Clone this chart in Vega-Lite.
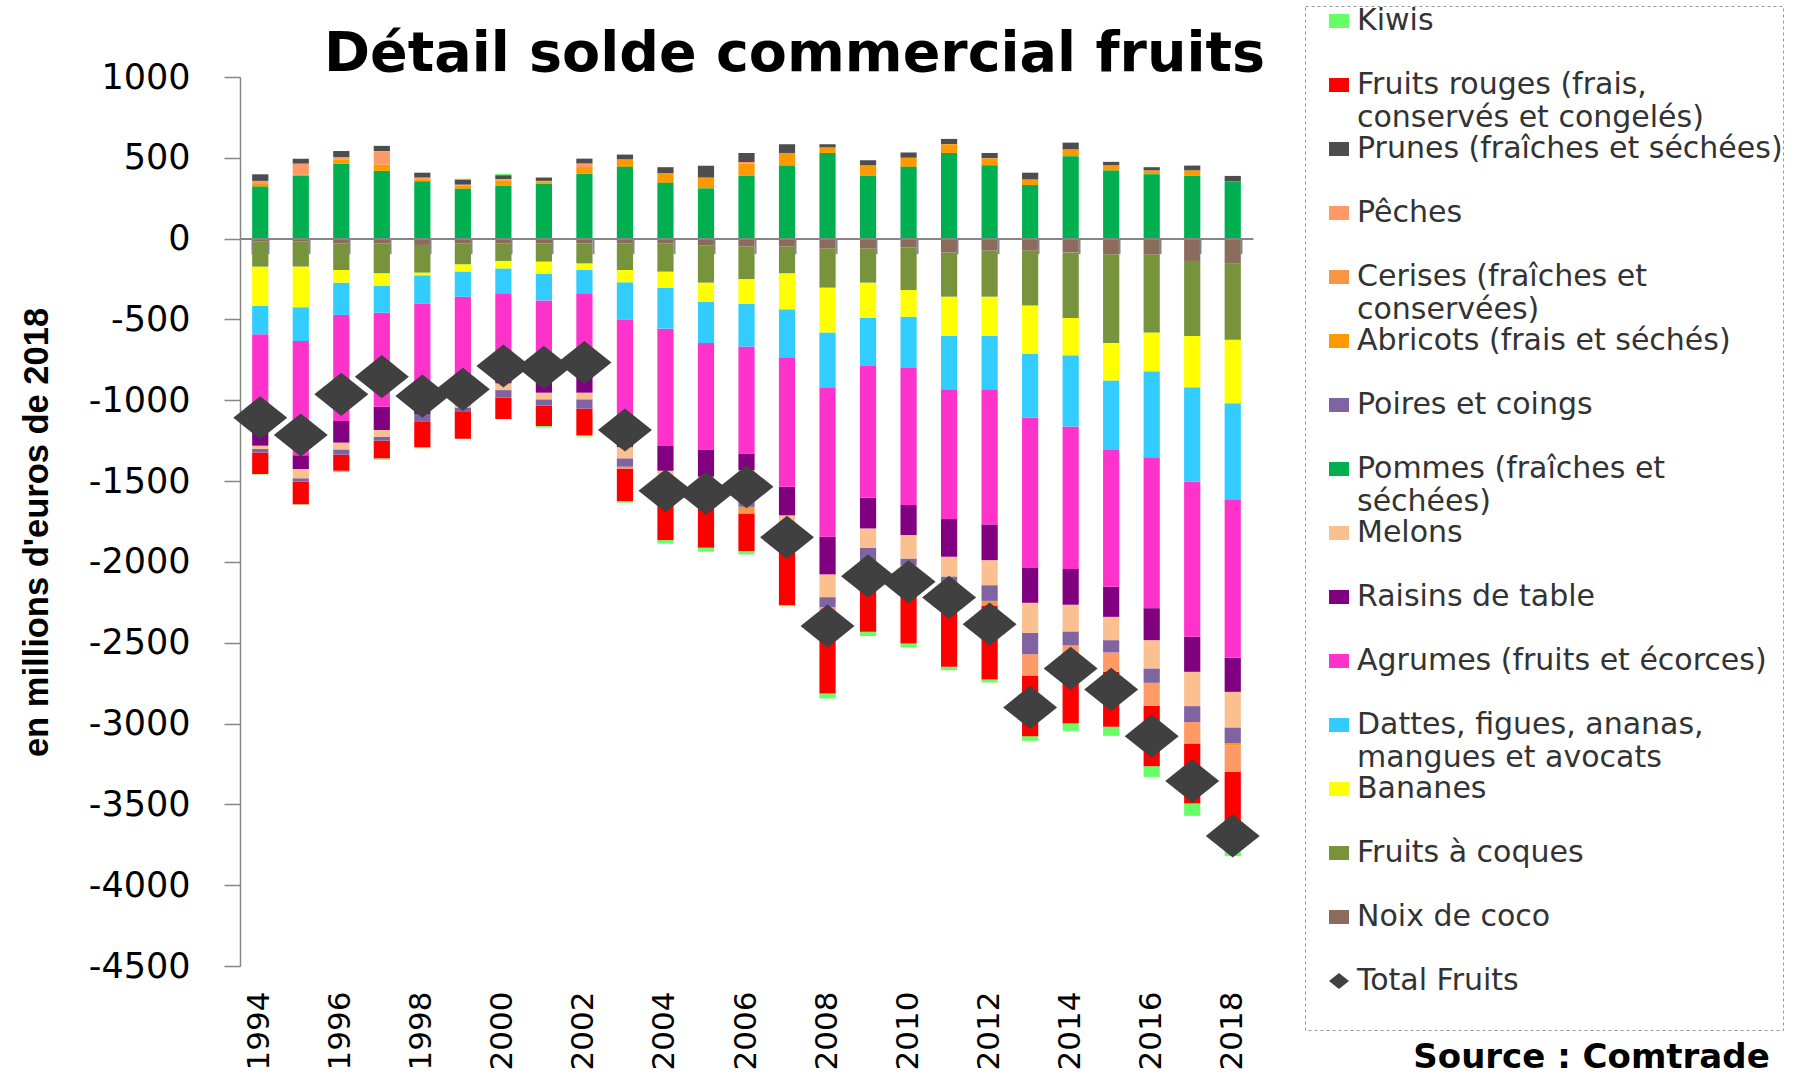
{
  "$schema": "https://vega.github.io/schema/vega-lite/v6.json",
  "width": 1013,
  "height": 889,
  "autosize": {"type": "none"},
  "padding": {"left": 240, "top": 77, "right": 553, "bottom": 109},
  "background": "white",
  "title": {
    "text": "Détail solde commercial fruits",
    "font": "DejaVu Sans", "fontSize": 55.5, "fontWeight": "bold", "color": "#000000",
    "anchor": "middle", "frame": "group", "dx": 48, "baseline": "alphabetic", "offset": -121
  },
  "data": {"values": [
    {"annee": 1994, "pommes": 322, "abricots": 16, "peches": 19, "prunes": 41, "coco": -16, "coques": -157, "bananes": -242, "dattes": -177, "agrumes": -608, "raisins": -81, "melons": -20, "poires": -23, "rouges": -132, "kiwi": -4, "total": -1108},
    {"annee": 1995, "pommes": 388, "abricots": 8, "peches": 68, "prunes": 31, "coco": -16, "coques": -157, "bananes": -252, "dattes": -208, "agrumes": -707, "raisins": -85, "melons": -58, "poires": -20, "rouges": -141, "kiwi": -3, "total": -1215},
    {"annee": 1996, "pommes": 464, "abricots": 25, "peches": 16, "prunes": 37, "coco": -29, "coques": -165, "bananes": -78, "dattes": -200, "agrumes": -656, "raisins": -134, "melons": -42, "poires": -33, "rouges": -99, "kiwi": -8, "total": -963},
    {"annee": 1997, "pommes": 419, "abricots": 39, "peches": 83, "prunes": 33, "coco": -29, "coques": -185, "bananes": -79, "dattes": -165, "agrumes": -582, "raisins": -144, "melons": -41, "poires": -25, "rouges": -109, "kiwi": -9, "total": -854},
    {"annee": 1998, "pommes": 355, "abricots": 12, "peches": 10, "prunes": 31, "coco": -39, "coques": -171, "bananes": -17, "dattes": -175, "agrumes": -648, "raisins": -35, "poires": -45, "rouges": -160, "kiwi": -7, "total": -974},
    {"annee": 1999, "pommes": 309, "abricots": 20, "peches": 5, "prunes": 31, "kiwi": 6, "coco": -29, "coques": -130, "bananes": -45, "dattes": -155, "agrumes": -651, "raisins": -20, "melons": -15, "poires": -28, "rouges": -165, "total": -932},
    {"annee": 2000, "pommes": 326, "abricots": 35, "peches": 6, "prunes": 25, "kiwi": 8, "coco": -29, "coques": -109, "bananes": -46, "dattes": -154, "agrumes": -542, "raisins": -15, "melons": -42, "poires": -47, "rouges": -132, "total": -788},
    {"annee": 2001, "pommes": 340, "abricots": 12, "peches": 5, "prunes": 21, "coco": -29, "coques": -113, "bananes": -75, "dattes": -165, "agrumes": -498, "raisins": -73, "melons": -41, "poires": -38, "rouges": -127, "kiwi": -9, "total": -796},
    {"annee": 2002, "pommes": 402, "abricots": 41, "peches": 21, "prunes": 31, "coco": -29, "coques": -124, "bananes": -41, "dattes": -144, "agrumes": -512, "raisins": -103, "melons": -41, "poires": -58, "rouges": -165, "kiwi": -8, "total": -767},
    {"annee": 2003, "pommes": 444, "abricots": 45, "prunes": 31, "coco": -29, "coques": -165, "bananes": -76, "dattes": -233, "agrumes": -697, "raisins": -90, "melons": -69, "poires": -52, "cerises": -12, "rouges": -201, "kiwi": -10, "total": -1184},
    {"annee": 2004, "pommes": 345, "abricots": 58, "prunes": 39, "coco": -29, "coques": -175, "bananes": -99, "dattes": -254, "agrumes": -726, "raisins": -153, "melons": -84, "poires": -60, "peches": -40, "rouges": -245, "kiwi": -21, "total": -1560},
    {"annee": 2005, "pommes": 311, "abricots": 66, "prunes": 74, "coco": -41, "coques": -231, "bananes": -120, "dattes": -254, "agrumes": -658, "raisins": -169, "melons": -80, "poires": -70, "peches": -40, "rouges": -249, "kiwi": -25, "total": -1576},
    {"annee": 2006, "pommes": 388, "abricots": 76, "peches": 10, "prunes": 56, "coco": -49, "coques": -201, "bananes": -154, "dattes": -264, "agrumes": -661, "raisins": -103, "melons": -150, "poires": -77, "cerises": -41, "rouges": -233, "kiwi": -21, "total": -1535},
    {"annee": 2007, "pommes": 452, "abricots": 78, "prunes": 54, "coco": -49, "coques": -165, "bananes": -223, "dattes": -297, "agrumes": -801, "raisins": -177, "melons": -48, "poires": -70, "peches": -20, "rouges": -417, "kiwi": -8, "total": -1848},
    {"annee": 2008, "pommes": 530, "abricots": 33, "prunes": 21, "coco": -62, "coques": -241, "bananes": -277, "dattes": -340, "agrumes": -924, "raisins": -233, "melons": -141, "poires": -62, "peches": -40, "rouges": -494, "kiwi": -31, "total": -2397},
    {"annee": 2009, "pommes": 388, "abricots": 64, "prunes": 33, "coco": -62, "coques": -210, "bananes": -219, "dattes": -297, "agrumes": -815, "raisins": -190, "melons": -119, "poires": -88, "peches": -30, "rouges": -402, "kiwi": -27, "total": -2088},
    {"annee": 2010, "pommes": 444, "abricots": 56, "prunes": 33, "coco": -54, "coques": -264, "bananes": -165, "dattes": -317, "agrumes": -848, "raisins": -186, "melons": -145, "poires": -41, "peches": -30, "rouges": -455, "kiwi": -24, "total": -2123},
    {"annee": 2011, "pommes": 530, "abricots": 54, "prunes": 33, "coco": -85, "coques": -274, "bananes": -243, "dattes": -330, "agrumes": -803, "raisins": -233, "melons": -122, "poires": -60, "peches": -50, "rouges": -449, "kiwi": -21, "total": -2220},
    {"annee": 2012, "pommes": 454, "abricots": 43, "prunes": 33, "coco": -74, "coques": -285, "bananes": -243, "dattes": -330, "agrumes": -836, "raisins": -221, "melons": -155, "poires": -97, "cerises": -29, "rouges": -457, "kiwi": -19, "total": -2385},
    {"annee": 2013, "pommes": 332, "abricots": 33, "prunes": 43, "coco": -74, "coques": -340, "bananes": -298, "dattes": -396, "agrumes": -926, "raisins": -219, "melons": -186, "poires": -132, "peches": -132, "rouges": -375, "kiwi": -29, "total": -2900},
    {"annee": 2014, "pommes": 510, "abricots": 41, "prunes": 43, "coco": -85, "coques": -406, "bananes": -231, "dattes": -441, "agrumes": -881, "raisins": -221, "melons": -165, "poires": -87, "peches": -43, "rouges": -440, "kiwi": -45, "total": -2659},
    {"annee": 2015, "pommes": 421, "abricots": 31, "prunes": 23, "coco": -97, "coques": -549, "bananes": -231, "dattes": -431, "agrumes": -846, "raisins": -186, "melons": -144, "poires": -76, "peches": -120, "rouges": -340, "kiwi": -56, "total": -2789},
    {"annee": 2016, "pommes": 398, "abricots": 23, "prunes": 21, "coco": -97, "coques": -483, "bananes": -241, "dattes": -532, "agrumes": -933, "raisins": -198, "melons": -175, "poires": -89, "peches": -142, "rouges": -374, "kiwi": -66, "total": -3078},
    {"annee": 2017, "pommes": 388, "abricots": 33, "prunes": 31, "coco": -138, "coques": -464, "bananes": -318, "dattes": -584, "agrumes": -959, "raisins": -217, "melons": -212, "poires": -99, "peches": -132, "rouges": -372, "kiwi": -76, "total": -3355},
    {"annee": 2018, "pommes": 355, "prunes": 33, "coco": -153, "coques": -472, "bananes": -394, "dattes": -594, "agrumes": -980, "raisins": -211, "melons": -220, "poires": -99, "abricots": -13, "peches": -163, "rouges": -471, "kiwi": -50, "total": -3695}
  ]},
  "resolve": {"axis": {"x": "independent"}},
  "layer": [
    {
      "transform": [
        {"fold": ["kiwi", "rouges", "prunes", "peches", "cerises", "abricots", "poires", "pommes", "melons", "raisins", "agrumes", "dattes", "bananes", "coques", "coco"], "as": ["serie", "v"]},
        {"filter": "isValid(datum.v)"},
        {"calculate": "indexof(['kiwi','rouges','prunes','peches','cerises','abricots','poires','pommes','melons','raisins','agrumes','dattes','bananes','coques','coco'], datum.serie)", "as": "rang"}
      ],
      "mark": {"type": "bar"},
      "encoding": {
        "x": {
          "field": "annee", "type": "ordinal",
          "scale": {"paddingInner": 0.6, "paddingOuter": 0.3},
          "axis": {
            "orient": "bottom", "ticks": false, "domain": false, "grid": false,
            "labelExpr": "datum.value % 2 == 0 ? datum.label : ''",
            "labelOverlap": false,
            "labelFont": "DejaVu Sans", "labelFontSize": 31, "labelColor": "#000000",
            "labelAngle": 270, "labelAlign": "right", "labelBaseline": "middle", "labelPadding": 25,
            "title": "Source : Comtrade",
            "titleFont": "DejaVu Sans", "titleFontSize": 34, "titleFontWeight": "bold", "titleColor": "#000000",
            "titleX": 1351, "titleY": 91, "titleAlign": "center", "titleBaseline": "middle", "titleAngle": 0
          }
        },
        "y": {
          "field": "v", "type": "quantitative", "stack": "zero",
          "scale": {"domain": [-4500, 1000], "nice": false, "zero": false},
          "axis": {
            "values": [-4500, -4000, -3500, -3000, -2500, -2000, -1500, -1000, -500, 0, 500, 1000],
            "labelExpr": "'' + datum.value",
            "grid": false,
            "domainColor": "#868686", "domainWidth": 1.5, "tickColor": "#868686", "tickWidth": 1.5, "tickSize": 16,
            "labelFont": "DejaVu Sans", "labelFontSize": 35, "labelColor": "#000000", "labelPadding": 34,
            "title": "en millions d'euros de 2018",
            "titleFont": "Liberation Sans", "titleFontSize": 34.5, "titleFontWeight": "bold", "titleColor": "#000000",
            "titleX": -203, "titleY": 455, "titleAngle": 270, "titleAlign": "center", "titleBaseline": "middle"
          }
        },
        "color": {
          "field": "serie", "type": "nominal",
          "scale": {
            "domain": ["kiwi", "rouges", "prunes", "peches", "cerises", "abricots", "poires", "pommes", "melons", "raisins", "agrumes", "dattes", "bananes", "coques", "coco", "total"],
            "range": ["#66FF66", "#FF0000", "#4D4D4D", "#FF9966", "#F79646", "#FF9900", "#8064A2", "#00B050", "#FAC090", "#800080", "#FF33CC", "#33CCFF", "#FFFF00", "#77933C", "#8B6B5C", "#404040"]
          },
          "legend": {
            "title": null,
            "labelExpr": "datum.value == 'kiwi' ? 'Kiwis' : datum.value == 'rouges' ? ['Fruits rouges (frais,', 'conservés et congelés)'] : datum.value == 'prunes' ? 'Prunes (fraîches et séchées)' : datum.value == 'peches' ? 'Pêches' : datum.value == 'cerises' ? ['Cerises (fraîches et', 'conservées)'] : datum.value == 'abricots' ? 'Abricots (frais et séchés)' : datum.value == 'poires' ? 'Poires et coings' : datum.value == 'pommes' ? ['Pommes (fraîches et', 'séchées)'] : datum.value == 'melons' ? 'Melons' : datum.value == 'raisins' ? 'Raisins de table' : datum.value == 'agrumes' ? 'Agrumes (fruits et écorces)' : datum.value == 'dattes' ? ['Dattes, figues, ananas,', 'mangues et avocats'] : datum.value == 'bananes' ? 'Bananes' : datum.value == 'coques' ? 'Fruits à coques' : datum.value == 'coco' ? 'Noix de coco' : ['Total Fruits', '']"
          }
        },
        "order": {"field": "rang", "type": "quantitative", "sort": "descending"}
      }
    },
    {
      "mark": {"type": "point", "filled": true, "opacity": 1, "size": 2916, "strokeWidth": 0},
      "encoding": {
        "x": {
          "field": "annee", "type": "ordinal",
          "axis": {
            "orient": "bottom", "offset": -727.4, "tickBand": "extent", "tickSize": 15,
            "labels": false, "title": null, "grid": false, "zindex": 1,
            "domainColor": "#868686", "domainWidth": 2, "tickColor": "#868686", "tickWidth": 2
          }
        },
        "y": {"field": "total", "type": "quantitative"},
        "color": {
          "datum": "total", "type": "nominal",
          "scale": {
            "domain": ["kiwi", "rouges", "prunes", "peches", "cerises", "abricots", "poires", "pommes", "melons", "raisins", "agrumes", "dattes", "bananes", "coques", "coco", "total"],
            "range": ["#66FF66", "#FF0000", "#4D4D4D", "#FF9966", "#F79646", "#FF9900", "#8064A2", "#00B050", "#FAC090", "#800080", "#FF33CC", "#33CCFF", "#FFFF00", "#77933C", "#8B6B5C", "#404040"]
          }
        },
        "shape": {
          "datum": "total", "type": "nominal",
          "scale": {
            "domain": ["kiwi", "rouges", "prunes", "peches", "cerises", "abricots", "poires", "pommes", "melons", "raisins", "agrumes", "dattes", "bananes", "coques", "coco", "total"],
            "range": ["M-1,-0.7H1V0.7H-1Z", "M-1,-0.7H1V0.7H-1Z", "M-1,-0.7H1V0.7H-1Z", "M-1,-0.7H1V0.7H-1Z", "M-1,-0.7H1V0.7H-1Z", "M-1,-0.7H1V0.7H-1Z", "M-1,-0.7H1V0.7H-1Z", "M-1,-0.7H1V0.7H-1Z", "M-1,-0.7H1V0.7H-1Z", "M-1,-0.7H1V0.7H-1Z", "M-1,-0.7H1V0.7H-1Z", "M-1,-0.7H1V0.7H-1Z", "M-1,-0.7H1V0.7H-1Z", "M-1,-0.7H1V0.7H-1Z", "M-1,-0.7H1V0.7H-1Z", "M-1,0L0,-0.8L1,0L0,0.8Z"]
          },
          "legend": {
            "title": null,
            "labelExpr": "datum.value == 'kiwi' ? 'Kiwis' : datum.value == 'rouges' ? ['Fruits rouges (frais,', 'conservés et congelés)'] : datum.value == 'prunes' ? 'Prunes (fraîches et séchées)' : datum.value == 'peches' ? 'Pêches' : datum.value == 'cerises' ? ['Cerises (fraîches et', 'conservées)'] : datum.value == 'abricots' ? 'Abricots (frais et séchés)' : datum.value == 'poires' ? 'Poires et coings' : datum.value == 'pommes' ? ['Pommes (fraîches et', 'séchées)'] : datum.value == 'melons' ? 'Melons' : datum.value == 'raisins' ? 'Raisins de table' : datum.value == 'agrumes' ? 'Agrumes (fruits et écorces)' : datum.value == 'dattes' ? ['Dattes, figues, ananas,', 'mangues et avocats'] : datum.value == 'bananes' ? 'Bananes' : datum.value == 'coques' ? 'Fruits à coques' : datum.value == 'coco' ? 'Noix de coco' : ['Total Fruits', '']"
          }
        }
      }
    }
  ],
  "config": {
    "view": {"stroke": null},
    "style": {"guide-label": {"lineHeight": 33.3}},
    "legend": {
      "orient": "none", "legendX": 1065, "legendY": -71,
      "labelFont": "DejaVu Sans", "labelFontSize": 30, "labelColor": "#333333", "labelLimit": 700,
      "labelOffset": 3, "symbolOffset": 19, "symbolSize": 400, "symbolStrokeWidth": 0,
      "rowPadding": 0, "gridAlign": "all", "padding": 0,
      "strokeColor": "#999999", "strokeDash": [3, 3], "strokeWidth": 1, "labelBaseline": "middle"
    }
  }
}
